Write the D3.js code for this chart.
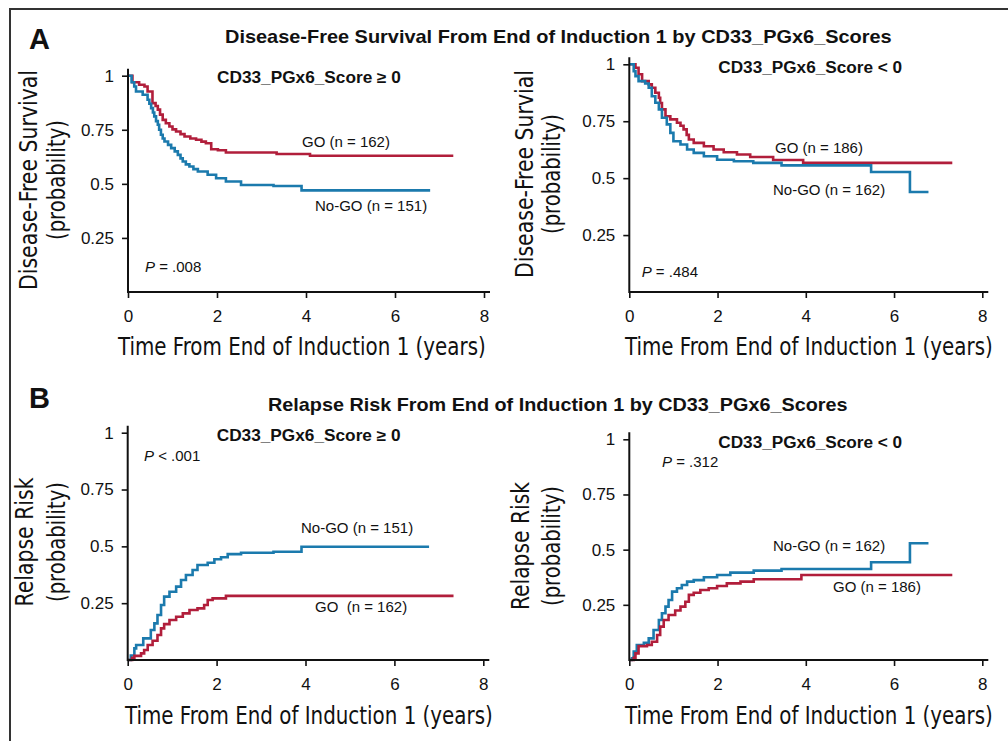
<!DOCTYPE html>
<html>
<head>
<meta charset="utf-8">
<script src="https://cdn.jsdelivr.net/npm/d3@7"></script>
<style>
  body { margin: 0; background: #fff; }
  text { font-family: "Liberation Sans", Arial, sans-serif; fill: #111; }
  .cond { font-family: "Liberation Sans Narrow", "DejaVu Sans Condensed", "Liberation Sans", sans-serif; }
</style>
</head>
<body>
<div id="chart"></div>
<script>
// Values: [years, probability]
const yearTicks = [0, 2, 4, 6, 8];
const probTicks = [0.25, 0.5, 0.75, 1];

const dfsHighGO = [[0,1],[0.1,0.97],[0.25,0.958],[0.37,0.95],[0.44,0.927],[0.55,0.873],[0.62,0.86],[0.67,0.843],[0.72,0.82],[0.78,0.796],[0.85,0.78],[0.93,0.765],[1.0,0.752],[1.08,0.742],[1.18,0.73],[1.27,0.719],[1.4,0.71],[1.53,0.704],[1.65,0.695],[1.75,0.688],[1.87,0.66],[2.02,0.655],[2.2,0.645],[3.34,0.638],[4.09,0.63],[7.31,0.63]];
const dfsHighNoGO = [[0,1],[0.08,0.97],[0.14,0.95],[0.18,0.927],[0.33,0.912],[0.44,0.889],[0.48,0.87],[0.52,0.85],[0.56,0.83],[0.59,0.812],[0.63,0.79],[0.67,0.773],[0.7,0.75],[0.74,0.727],[0.78,0.71],[0.82,0.696],[0.9,0.68],[0.97,0.665],[1.05,0.65],[1.12,0.634],[1.18,0.618],[1.23,0.603],[1.3,0.59],[1.38,0.58],[1.47,0.568],[1.57,0.557],[1.79,0.542],[1.98,0.526],[2.2,0.511],[2.54,0.495],[3.27,0.49],[3.9,0.47],[6.79,0.47]];
const dfsLowGO = [[0,1],[0.14,0.985],[0.21,0.956],[0.29,0.926],[0.44,0.912],[0.51,0.897],[0.59,0.875],[0.67,0.853],[0.7,0.83],[0.74,0.802],[0.82,0.772],[0.93,0.758],[1.08,0.743],[1.16,0.73],[1.23,0.714],[1.3,0.69],[1.35,0.67],[1.46,0.655],[1.69,0.64],[1.91,0.626],[2.14,0.614],[2.44,0.604],[2.74,0.593],[3.26,0.58],[3.94,0.567],[7.32,0.567]];
const dfsLowNoGO = [[0,1],[0.1,0.97],[0.14,0.948],[0.21,0.926],[0.36,0.916],[0.44,0.897],[0.51,0.86],[0.59,0.831],[0.67,0.802],[0.74,0.765],[0.85,0.736],[0.93,0.699],[1.0,0.662],[1.16,0.648],[1.31,0.626],[1.46,0.611],[1.69,0.596],[1.99,0.581],[2.37,0.574],[2.81,0.567],[3.45,0.556],[5.48,0.527],[6.36,0.439],[6.78,0.439]];

const rrHighNoGO = [[0,0],[0.07,0.02],[0.15,0.051],[0.19,0.066],[0.35,0.095],[0.52,0.132],[0.6,0.161],[0.67,0.198],[0.75,0.242],[0.82,0.279],[0.94,0.3],[1.09,0.323],[1.2,0.352],[1.31,0.374],[1.46,0.396],[1.57,0.418],[1.8,0.428],[1.95,0.443],[2.1,0.452],[2.25,0.466],[2.55,0.472],[3.28,0.476],[3.91,0.498],[6.78,0.498]];
const rrHighGO = [[0,0],[0.1,0.01],[0.15,0.018],[0.3,0.029],[0.37,0.044],[0.45,0.066],[0.56,0.085],[0.67,0.11],[0.75,0.139],[0.82,0.158],[0.94,0.176],[1.09,0.19],[1.24,0.205],[1.39,0.22],[1.57,0.227],[1.72,0.242],[1.8,0.264],[1.91,0.271],[2.21,0.282],[7.33,0.282]];
const rrLowNoGO = [[0,0],[0.06,0.008],[0.1,0.038],[0.17,0.068],[0.33,0.078],[0.44,0.098],[0.55,0.136],[0.67,0.181],[0.74,0.212],[0.82,0.242],[0.89,0.272],[0.97,0.31],[1.08,0.325],[1.19,0.34],[1.31,0.355],[1.46,0.362],[1.69,0.375],[1.99,0.385],[2.29,0.396],[2.82,0.405],[3.45,0.412],[5.48,0.443],[6.36,0.529],[6.78,0.529]];
const rrLowGO = [[0,0],[0.1,0.01],[0.14,0.03],[0.21,0.063],[0.4,0.068],[0.51,0.083],[0.63,0.113],[0.7,0.151],[0.78,0.181],[0.89,0.204],[1.04,0.224],[1.16,0.242],[1.27,0.264],[1.35,0.295],[1.46,0.305],[1.61,0.317],[1.8,0.325],[1.99,0.335],[2.21,0.347],[2.52,0.355],[2.82,0.366],[3.9,0.385],[7.32,0.385]];

const RED = "#b11e3b", BLUE = "#1b7aad";

const W = 1008, H = 741;
const svg = d3.select("#chart").append("svg")
  .attr("width", W).attr("height", H);

// squeeze a text horizontally to a given width (left anchored at x,y)
function fitText(sel, x, y, width) {
  const w = sel.node().getComputedTextLength();
  sel.attr("transform", "translate(" + x + "," + y + ") scale(" + (width / w) + ",1)");
}

// frame
svg.append("path")
  .attr("d", "M10," + H + "V9H" + W)
  .attr("fill", "none").attr("stroke", "#333").attr("stroke-width", 2);

// panel letters and titles
svg.append("text").attr("x", 29).attr("y", 49).attr("font-size", 29).attr("font-weight", "bold").text("A");
svg.append("text").attr("x", 29).attr("y", 408).attr("font-size", 29).attr("font-weight", "bold").text("B");
fitText(svg.append("text").attr("font-size", 18).attr("font-weight", "bold")
  .text("Disease-Free Survival From End of Induction 1 by CD33_PGx6_Scores"), 225, 43, 667);
fitText(svg.append("text").attr("font-size", 18).attr("font-weight", "bold")
  .text("Relapse Risk From End of Induction 1 by CD33_PGx6_Scores"), 268, 410.5, 580);

const panels = [
  { x0: 128, x8: 484, y0: 292, y1: 75.7, sub: "CD33_PGx6_Score \u2265 0", subY: 83,
    yl1: "Disease-Free Survival", yl1x: 37, yl1w: 220, yl2x: 65, yc: 180, xlX: 118, xlY: 355,
    p: ["P", " = .008"], px: 145, py: 271.5,
    series: [
      { data: dfsHighGO, color: RED, label: "GO (n = 162)", lx: 302, ly: 146.5 },
      { data: dfsHighNoGO, color: BLUE, label: "No-GO (n = 151)", lx: 315, ly: 210.5 }
    ] },
  { x0: 629.3, x8: 982.3, y0: 292, y1: 64.3, sub: "CD33_PGx6_Score < 0", subY: 73.3,
    yl1: "Disease-Free Survial", yl1x: 533, yl1w: 208, yl2x: 560, yc: 174, xlX: 625, xlY: 355,
    p: ["P", " = .484"], px: 641.7, py: 276.5,
    series: [
      { data: dfsLowGO, color: RED, label: "GO (n = 186)", lx: 775, ly: 153.3 },
      { data: dfsLowNoGO, color: BLUE, label: "No-GO (n = 162)", lx: 773, ly: 195 }
    ] },
  { x0: 127.7, x8: 483.3, y0: 660, y1: 432.7, sub: "CD33_PGx6_Score \u2265 0", subY: 441,
    yl1: "Relapse Risk", yl1x: 33, yl1w: 129, yl2x: 65, yc: 542, xlX: 125, xlY: 724,
    p: ["P", " < .001"], px: 144, py: 460.7,
    series: [
      { data: rrHighNoGO, color: BLUE, label: "No-GO (n = 151)", lx: 301, ly: 532.7 },
      { data: rrHighGO, color: RED, label: "GO\u00a0 (n = 162)", lx: 315, ly: 611.7 }
    ] },
  { x0: 629.3, x8: 982.3, y0: 660, y1: 439.3, sub: "CD33_PGx6_Score < 0", subY: 448.3,
    yl1: "Relapse Risk", yl1x: 529, yl1w: 128, yl2x: 560, yc: 546, xlX: 625, xlY: 724,
    p: ["P", " = .312"], px: 662, py: 467.3,
    series: [
      { data: rrLowNoGO, color: BLUE, label: "No-GO (n = 162)", lx: 773, ly: 550.7 },
      { data: rrLowGO, color: RED, label: "GO (n = 186)", lx: 833, ly: 591.7 }
    ] }
];

panels.forEach(function (pn) {
  const x = d3.scaleLinear().domain([0, 8]).range([pn.x0, pn.x8]);
  const y = d3.scaleLinear().domain([0, 1]).range([pn.y0, pn.y1]);
  const g = svg.append("g");

  // curves
  const line = d3.line()
    .x(function (d) { return x(d[0]); })
    .y(function (d) { return y(d[1]); })
    .curve(d3.curveStepAfter);
  pn.series.forEach(function (s) {
    g.append("path").datum(s.data)
      .attr("d", line)
      .attr("fill", "none")
      .attr("stroke", s.color)
      .attr("stroke-width", 2.6);
    g.append("text").attr("x", s.lx).attr("y", s.ly)
      .attr("font-size", 15).text(s.label);
  });

  // axes
  const xAxis = d3.axisBottom(x).tickValues(yearTicks).tickSize(6).tickPadding(12);
  const yAxis = d3.axisLeft(y).tickValues(probTicks).tickSize(6).tickPadding(8)
    .tickFormat(function (d) { return String(d); });
  const gx = g.append("g").attr("transform", "translate(0," + pn.y0 + ")").call(xAxis);
  const gy = g.append("g").attr("transform", "translate(" + pn.x0 + ",0)").call(yAxis);
  [gx, gy].forEach(function (ax) {
    ax.select(".domain").remove();
    ax.selectAll(".tick line").attr("stroke", "#111").attr("stroke-width", 1.6);
    ax.selectAll(".tick text").attr("font-size", 17).attr("fill", "#111")
      .attr("font-family", "Liberation Sans, Arial, sans-serif");
  });
  g.append("path")
    .attr("d", "M" + pn.x0 + "," + (y(1) - 7) + "V" + pn.y0 + "H" + (x(8) + 6))
    .attr("fill", "none").attr("stroke", "#111").attr("stroke-width", 2);

  // subtitle
  fitText(g.append("text").attr("font-size", 16).attr("font-weight", "bold").text(pn.sub),
    pn.x0 + 89, pn.subY, 184);

  // p value
  const pt = g.append("text").attr("x", pn.px).attr("y", pn.py).attr("font-size", 15);
  pt.append("tspan").attr("font-style", "italic").text(pn.p[0]);
  pt.append("tspan").text(pn.p[1]);

  // x axis title
  fitText(g.append("text").attr("class", "cond").attr("font-size", 25)
    .text("Time From End of Induction 1 (years)"), pn.xlX, pn.xlY, 368);

  // y axis titles
  g.append("text").attr("class", "cond")
    .attr("transform", "translate(" + pn.yl1x + "," + pn.yc + ") rotate(-90)")
    .attr("text-anchor", "middle").attr("font-size", 25)
    .attr("textLength", pn.yl1w).attr("lengthAdjust", "spacingAndGlyphs")
    .text(pn.yl1);
  g.append("text").attr("class", "cond")
    .attr("transform", "translate(" + pn.yl2x + "," + pn.yc + ") rotate(-90)")
    .attr("text-anchor", "middle").attr("font-size", 24)
    .attr("textLength", 120).attr("lengthAdjust", "spacingAndGlyphs")
    .text("(probability)");
});
</script>
</body>
</html>
